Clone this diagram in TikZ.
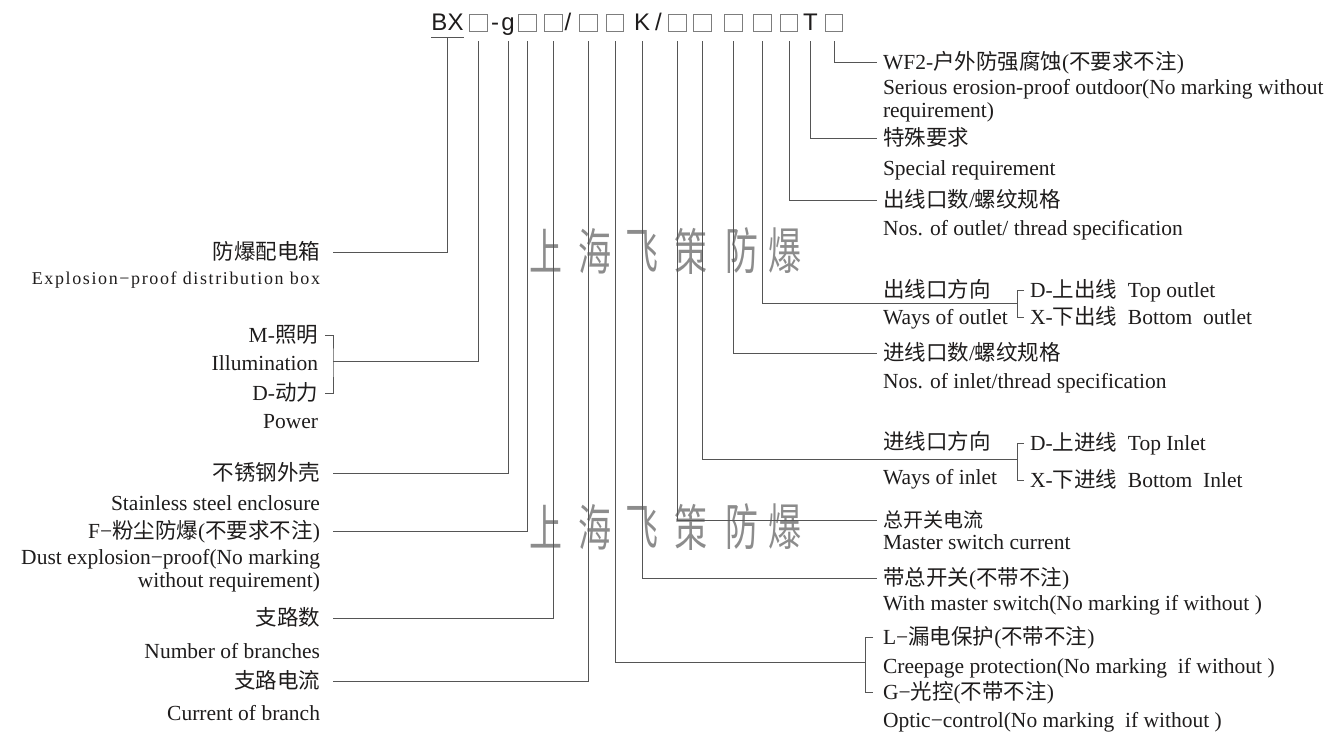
\documentclass[tikz,border=0pt]{standalone}
\usepackage{fontspec}
\setmainfont{Liberation Serif}
\newfontfamily\cjk{Noto Sans CJK SC}
\newfontfamily\codefont{Liberation Sans}
\newfontfamily\spacedserif[LetterSpace=9]{Liberation Serif}
\newcommand{\zh}[1]{{\cjk #1}}

\definecolor{ink}{RGB}{30,28,28}
\definecolor{lineg}{RGB}{85,85,85}
\definecolor{slotg}{RGB}{125,125,125}
\definecolor{markg}{RGB}{140,140,140}

\tikzset{
  every node/.style={inner sep=0pt, text=ink},
  conn/.style={draw=lineg, line width=0.9pt},
  lbl/.style={font={\fontsize{21.5}{24}\selectfont}, text height=17pt, text depth=2pt},
  leftlbl/.style={lbl, anchor=east, outer xsep=13pt},
  rightlbl/.style={lbl, anchor=west, outer xsep=6pt},
  codech/.style={font={\codefont\fontsize{24}{26}\selectfont}, anchor=base},
  slot/.style={draw=slotg, line width=0.8pt, minimum size=17.5pt},
  wmark/.style={text=markg, font={\cjk\fontsize{50}{50}\selectfont}},
}

\begin{document}
\begin{tikzpicture}[x=1pt, y=-1pt]
\useasboundingbox (0,0) rectangle (1337,742);

% watermark
\foreach \yy in {251,527}
  \foreach \ch/\xx in {上/546,海/595,飞/642,策/691,防/742,爆/785}
    \node[wmark] (wm-\yy-\xx) at (\xx,\yy) {\scalebox{0.66}[1]{\ch}};

% type code
\node[codech] (bx) at (447.5,30) {BX};
\node[slot] (s1) at (478.5,23) {};
\node[codech] (dash) at (495,30) {-};
\node[codech] (g) at (508,30) {g};
\node[slot] (s2) at (527.5,23) {};
\node[slot] (s3) at (553.5,23) {};
\node[codech] (slash1) at (568,30) {/};
\node[slot] (s4) at (588.5,23) {};
\node[slot] (s5) at (615,23) {};
\node[codech] (k) at (642,30) {K};
\node[codech] (slash2) at (658.5,30) {/};
\node[slot] (s6) at (677.5,23) {};
\node[slot] (s7) at (702.5,23) {};
\node[slot] (s8) at (733.5,23) {};
\node[slot] (s9) at (762.5,23) {};
\node[slot] (s10) at (789,23) {};
\node[codech] (t) at (810.5,30) {T};
\node[slot] (s11) at (834,23) {};

\coordinate (ul) at (0,37);
\coordinate (top) at (0,41);

% left side
\node[leftlbl] (box) at (333,252) {\zh{防爆配电箱}};
\node[leftlbl, font={\spacedserif\fontsize{18}{20}\selectfont}] (box-en) at (333,277) {Explosion−proof distribution box};
\node[leftlbl, outer xsep=7pt] (mode-m) at (325,335) {M-\zh{照明}};
\node[leftlbl] (mode-m-en) at (331,363) {Illumination};
\node[leftlbl, outer xsep=7pt] (mode-d) at (325,393) {D-\zh{动力}};
\node[leftlbl] (mode-d-en) at (331,421) {Power};
\node[leftlbl] (shell) at (333,473) {\zh{不锈钢外壳}};
\node[leftlbl] (shell-en) at (333,503) {Stainless steel enclosure};
\node[leftlbl] (dust) at (333,531) {F−\zh{粉尘防爆}(\zh{不要求不注})};
\node[leftlbl] (dust-en) at (333,557) {Dust explosion−proof(No marking};
\node[leftlbl] (dust-en2) at (333,580) {without requirement)};
\node[leftlbl] (branch) at (333,618) {\zh{支路数}};
\node[leftlbl] (branch-en) at (333,651) {Number of branches};
\node[leftlbl] (bcur) at (333,681) {\zh{支路电流}};
\node[leftlbl] (bcur-en) at (333,713) {Current of branch};

% right side
\node[rightlbl] (anti) at (877,62) {WF2-\zh{户外防强腐蚀}(\zh{不要求不注})};
\node[rightlbl] (anti-en) at (877,87) {Serious erosion-proof outdoor(No marking without};
\node[rightlbl] (anti-en2) at (877,110) {requirement)};
\node[rightlbl] (spec) at (877,138) {\zh{特殊要求}};
\node[rightlbl] (spec-en) at (877,168) {Special requirement};
\node[rightlbl] (outn) at (877,200) {\zh{出线口数}/\zh{螺纹规格}};
\node[rightlbl] (outn-en) at (877,228) {Nos. of outlet/ thread specification};
\node[rightlbl] (outw) at (877,290) {\zh{出线口方向}};
\node[rightlbl] (outw-en) at (877,317) {Ways of outlet};
\node[rightlbl] (outw-d) at (1024,290) {D-\zh{上出线}\ \ Top outlet};
\node[rightlbl] (outw-x) at (1024,317) {X-\zh{下出线}\ \ Bottom\ \ outlet};
\node[rightlbl] (inn) at (877,353) {\zh{进线口数}/\zh{螺纹规格}};
\node[rightlbl] (inn-en) at (877,381) {Nos. of inlet/thread specification};
\node[rightlbl] (inw) at (877,442) {\zh{进线口方向}};
\node[rightlbl] (inw-en) at (877,477) {Ways of inlet};
\node[rightlbl] (inw-d) at (1024,443) {D-\zh{上进线}\ \ Top Inlet};
\node[rightlbl] (inw-x) at (1024,480) {X-\zh{下进线}\ \ Bottom\ \ Inlet};
\node[rightlbl, font={\fontsize{20}{22}\selectfont}] (mcur) at (877,520) {\zh{总开关电流}};
\node[rightlbl] (mcur-en) at (877,542) {Master switch current};
\node[rightlbl] (msw) at (877,578) {\zh{带总开关}(\zh{不带不注})};
\node[rightlbl] (msw-en) at (877,603) {With master switch(No marking if without )};
\node[rightlbl, outer xsep=10pt] (leak) at (873,637) {L−\zh{漏电保护}(\zh{不带不注})};
\node[rightlbl] (leak-en) at (877,666) {Creepage protection(No marking\ \ if without )};
\node[rightlbl, outer xsep=10pt] (optic) at (873,692) {G−\zh{光控}(\zh{不带不注})};
\node[rightlbl] (optic-en) at (877,720) {Optic−control(No marking\ \ if without )};

% bracket joints
\coordinate (mdb) at (333,361);
\coordinate (lgb) at (865,662);
\coordinate (inb) at (1017,459);
\coordinate (outb) at (1017,303);

% leader lines
\draw[conn] (bx.west |- ul) -- (bx.east |- ul);
\draw[conn] (bx |- ul) |- (box.east);
\draw[conn] (s1 |- top) |- (mdb);
\draw[conn] (mode-m.east) -| (mdb) |- (mode-d.east);
\draw[conn] (g |- top) |- (shell.east);
\draw[conn] (s2 |- top) |- (dust.east);
\draw[conn] (s3 |- top) |- (branch.east);
\draw[conn] (s4 |- top) |- (bcur.east);
\draw[conn] (s5 |- top) |- (lgb);
\draw[conn] (leak.west) -| (lgb) |- (optic.west);
\draw[conn] (k |- top) |- (msw.west);
\draw[conn] (s6 |- top) |- (mcur.west);
\draw[conn] (s7 |- top) |- (inb);
\draw[conn] (inw-d.west) -| (inb) |- (inw-x.west);
\draw[conn] (s8 |- top) |- (inn.west);
\draw[conn] (s9 |- top) |- (outb);
\draw[conn] (outw-d.west) -| (outb) |- (outw-x.west);
\draw[conn] (s10 |- top) |- (outn.west);
\draw[conn] (t |- top) |- (spec.west);
\draw[conn] (s11 |- top) |- (anti.west);

\end{tikzpicture}
\end{document}
